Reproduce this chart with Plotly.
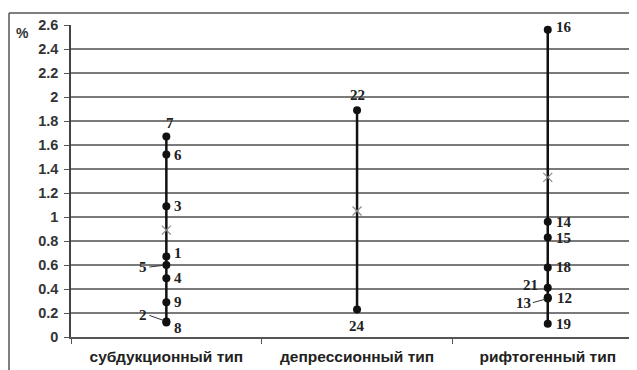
import plotly.graph_objects as go

categories = ["субдукционный тип", "депрессионный тип", "рифтогенный тип"]

# sample points per category with their labels
sub_labels = ["7", "6", "3", "1", "5", "4", "9", "2", "8"]
sub_values = [1.67, 1.52, 1.09, 0.67, 0.60, 0.49, 0.29, 0.13, 0.12]
dep_labels = ["22", "24"]
dep_values = [1.89, 0.23]
rif_labels = ["16", "14", "15", "18", "21", "12", "13", "19"]
rif_values = [2.56, 0.96, 0.83, 0.58, 0.41, 0.33, 0.32, 0.11]
mid_values = [0.89, 1.05, 1.33]

y_ticks = [0, 0.2, 0.4, 0.6, 0.8, 1, 1.2, 1.4, 1.6, 1.8, 2, 2.2, 2.4, 2.6]
y_ticktext = ["0", "0.2", "0.4", "0.6", "0.8", "1", "1.2", "1.4", "1.6", "1.8", "2", "2.2", "2.4", "2.6"]

groups = [(sub_labels, sub_values), (dep_labels, dep_values), (rif_labels, rif_values)]

# label offsets (dx, dy in px, leader line)
offsets = {
    "7": (4, 14, False), "6": (12, 0, False), "3": (12, 0, False), "1": (12, 4, False),
    "5": (-17, -2, True), "4": (12, 0, False), "9": (12, 0, False), "2": (-17, 6, True),
    "8": (12, -5, False), "22": (0, 15, False), "24": (0, -17, False),
    "16": (16, 3, False), "14": (16, 0, False), "15": (16, -1, False), "18": (16, 0, False),
    "21": (-17, 3, False), "12": (17, -1, False), "13": (-15, -4, True), "19": (16, 0, False),
}

W, H = 637, 370
OFF = 8  # page body margin offset
# target plot area in window pixels
PL, PR, PT, PB = 71, 637, 25, 337


def px2x(wx):
    return (wx - OFF) / W


def px2y(wy):
    return (H - (wy - OFF)) / H


fig = go.Figure()

lx, ly = [], []
for ci, (labs, vals) in enumerate(groups):
    lx += [categories[ci], categories[ci], None]
    ly += [max(vals), min(vals), None]
fig.add_trace(go.Scatter(x=lx, y=ly, mode="lines", line=dict(color="#111111", width=2.5),
                         hoverinfo="skip", showlegend=False))

px_, py_ = [], []
for ci, (labs, vals) in enumerate(groups):
    for v in vals:
        px_.append(categories[ci]); py_.append(v)
fig.add_trace(go.Scatter(x=px_, y=py_, mode="markers",
                         marker=dict(color="#111111", size=8), showlegend=False))

fig.add_trace(go.Scatter(x=categories, y=mid_values, mode="markers",
                         marker=dict(symbol="x-thin-open", size=9, color="#8a8a8a",
                                     line=dict(color="#8a8a8a", width=1.2)),
                         showlegend=False))

annotations = []
for ci, (labs, vals) in enumerate(groups):
    for lab, v in zip(labs, vals):
        dx, dy, leader = offsets[lab]
        f = dict(family="Liberation Serif", size=15, color="#222", weight="bold")
        if leader:
            annotations.append(dict(x=categories[ci], y=v, xref="x", yref="y", text=lab,
                                    showarrow=True, arrowhead=0, arrowwidth=1, arrowcolor="#333",
                                    ax=dx, ay=-dy, standoff=3, font=f,
                                    xanchor="right" if dx < 0 else "left"))
        else:
            annotations.append(dict(x=categories[ci], y=v, xref="x", yref="y", text=lab,
                                    showarrow=False, xshift=dx, yshift=dy, font=f))

annotations.append(dict(x=px2x(22), y=px2y(33), xref="paper", yref="paper", text="%",
                        showarrow=False, xanchor="center", yanchor="middle",
                        font=dict(family="Liberation Sans", size=14, color="#333", weight="bold")))

frame = dict(color="#555", width=1.5)
fig.update_layout(
    width=W, height=H,
    margin=dict(l=0, r=0, t=0, b=0, pad=0, autoexpand=False),
    paper_bgcolor="white", plot_bgcolor="white",
    font=dict(family="Liberation Sans", color="#333"),
    annotations=annotations,
    shapes=[dict(type="line", xref="paper", yref="paper", x0=px2x(9), x1=px2x(9),
                 y0=0, y1=px2y(13), line=frame),
            dict(type="line", xref="paper", yref="paper", x0=px2x(9), x1=1,
                 y0=px2y(13), y1=px2y(13), line=frame)],
    xaxis=dict(type="category", range=[-0.5, 2.468], showgrid=False, automargin=False,
               domain=[px2x(PL), px2x(PR)],
               showline=True, linecolor="#555", linewidth=1.5,
               ticks="outside", tickson="boundaries", ticklen=5, tickcolor="#555",
               tickfont=dict(family="Liberation Sans", size=15.5, color="#222", weight="bold"),
               ticklabelstandoff=5),
    yaxis=dict(range=[0, 2.6], tickvals=y_ticks, ticktext=y_ticktext, automargin=False,
               domain=[px2y(PB), px2y(PT)],
               showgrid=True, gridcolor="#7a7a7a", gridwidth=1.5, zeroline=False,
               showline=True, linecolor="#444", linewidth=1.5,
               ticks="outside", ticklen=5, tickcolor="#555",
               tickfont=dict(family="Liberation Sans", size=14.5, color="#333", weight="bold"),
               ticklabelstandoff=3),
)

fig.write_html("out.html")
